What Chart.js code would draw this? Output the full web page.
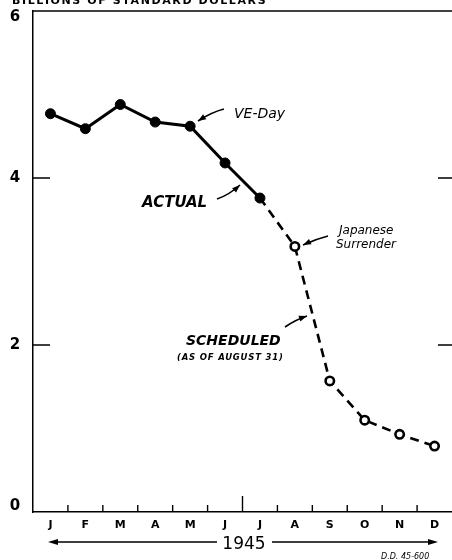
<!DOCTYPE html>
<html>
<head>
<meta charset="utf-8">
<script src="https://cdn.jsdelivr.net/npm/chart.js@4.4.1/dist/chart.umd.min.js"></script>
<style>
  html, body { margin: 0; padding: 0; background: #fff; }
  canvas { display: block; }
</style>
</head>
<body>
<canvas id="lendLease" width="452" height="560"></canvas>
<script>
// monthly values, billions of standard dollars, 1945
const months = ['J', 'F', 'M', 'A', 'M', 'J', 'J', 'A', 'S', 'O', 'N', 'D'];
const actual = [4.77, 4.59, 4.88, 4.67, 4.62, 4.18, 3.76, null, null, null, null, null];
const scheduled = [null, null, null, null, null, null, 3.76, 3.18, 1.57, 1.10, 0.93, 0.79];
const yTicks = [0, 2, 4, 6];

const LETTER = '"DejaVu Sans", "Liberation Sans", sans-serif';

function arrow(ctx, x1, y1, cx, cy, x2, y2) {
    ctx.beginPath();
    ctx.moveTo(x1, y1);
    ctx.quadraticCurveTo(cx, cy, x2, y2);
    ctx.lineWidth = 1.6;
    ctx.stroke();
    const a = Math.atan2(y2 - cy, x2 - cx);
    ctx.beginPath();
    ctx.moveTo(x2, y2);
    ctx.lineTo(x2 - 8 * Math.cos(a) + 3 * Math.sin(a), y2 - 8 * Math.sin(a) - 3 * Math.cos(a));
    ctx.lineTo(x2 - 8 * Math.cos(a) - 3 * Math.sin(a), y2 - 8 * Math.sin(a) + 3 * Math.cos(a));
    ctx.closePath();
    ctx.fill();
}

const decorations = {
    id: 'decorations',
    afterDraw(chart) {
        const ctx = chart.ctx;
        const area = chart.chartArea;
        const x = chart.scales.x;
        const y = chart.scales.y;
        ctx.save();
        ctx.strokeStyle = '#000';
        ctx.fillStyle = '#000';

        // top frame line
        ctx.lineWidth = 1.5;
        ctx.beginPath();
        ctx.moveTo(area.left, area.top);
        ctx.lineTo(area.right, area.top);
        ctx.stroke();

        // inner ticks on the month boundaries
        ctx.lineWidth = 1.4;
        for (let i = 1; i < months.length; i++) {
            const px = (x.getPixelForValue(i - 1) + x.getPixelForValue(i)) / 2;
            const len = i === 6 ? 16 : 7;
            ctx.beginPath();
            ctx.moveTo(px, area.bottom);
            ctx.lineTo(px, area.bottom - len);
            ctx.stroke();
        }
        // inner ticks and labels on the value axis
        ctx.font = 'bold 15px ' + LETTER;
        ctx.textAlign = 'center';
        ctx.textBaseline = 'middle';
        yTicks.forEach(v => {
            const py = y.getPixelForValue(v);
            ctx.fillText(String(v), 15, Math.min(Math.max(py, area.top + 6), area.bottom - 6));
            if (v === yTicks[0] || v === yTicks[yTicks.length - 1]) return;
            ctx.beginPath();
            ctx.moveTo(area.left, py);
            ctx.lineTo(area.left + 17, py);
            ctx.moveTo(area.right - 14, py);
            ctx.lineTo(area.right, py);
            ctx.stroke();
        });

        // unit title, cut by the top edge
        ctx.font = 'bold 11px ' + LETTER;
        ctx.letterSpacing = '1.6px';
        ctx.textAlign = 'left';
        ctx.textBaseline = 'alphabetic';
        ctx.fillText('BILLIONS OF STANDARD DOLLARS', 12, 4);
        ctx.letterSpacing = '0px';

        // notes
        ctx.font = 'italic 14px ' + LETTER;
        ctx.fillText('VE-Day', 234, 118);
        arrow(ctx, 224, 109, 212, 112, 198, 121);

        ctx.font = 'italic bold 15px ' + LETTER;
        ctx.fillText('ACTUAL', 142, 207);
        arrow(ctx, 217, 199, 229, 195, 240, 185);

        ctx.font = 'italic 12px ' + LETTER;
        ctx.fillText('Japanese', 339, 234);
        ctx.fillText('Surrender', 336, 248);
        arrow(ctx, 328, 236, 316, 239, 303, 245);

        ctx.font = 'italic bold 14px ' + LETTER;
        ctx.fillText('SCHEDULED', 186, 345);
        ctx.font = 'italic bold 8.5px ' + LETTER;
        ctx.letterSpacing = '0.8px';
        ctx.fillText('(AS OF AUGUST 31)', 177, 360);
        ctx.letterSpacing = '0px';
        arrow(ctx, 285, 327, 295, 320, 307, 316);

        // year with arrows under the month labels
        ctx.font = '17px ' + LETTER;
        ctx.textAlign = 'center';
        ctx.fillText('1945', 244, 549);
        ctx.lineWidth = 1.4;
        ctx.beginPath();
        ctx.moveTo(56, 542);
        ctx.lineTo(217, 542);
        ctx.moveTo(272, 542);
        ctx.lineTo(430, 542);
        ctx.stroke();
        [[48, 1], [438, -1]].forEach(([tx, d]) => {
            ctx.beginPath();
            ctx.moveTo(tx, 542);
            ctx.lineTo(tx + 10 * d, 539);
            ctx.lineTo(tx + 10 * d, 545);
            ctx.closePath();
            ctx.fill();
        });

        ctx.font = 'italic 8px ' + LETTER;
        ctx.textAlign = 'left';
        ctx.fillText('D.D. 45-600', 381, 559);
        ctx.restore();
    }
};

const ctx = document.getElementById('lendLease').getContext('2d');
const chart = new Chart(ctx, {
    type: 'line',
    data: {
        labels: months,
        datasets: [{
            label: 'Actual',
            data: actual,
            borderColor: '#000',
            backgroundColor: '#000',
            borderWidth: 3,
            pointRadius: 5,
            pointBackgroundColor: '#000',
            pointBorderColor: '#000',
            pointBorderWidth: 1,
            tension: 0,
            order: 1
        }, {
            label: 'Scheduled',
            data: scheduled,
            borderColor: '#000',
            borderWidth: 2.6,
            borderDash: [9, 6],
            pointRadius: c => c.dataIndex === 6 ? 0 : 4.2,
            pointBackgroundColor: '#fff',
            pointBorderColor: '#000',
            pointBorderWidth: 2.6,
            tension: 0,
            order: 2
        }]
    },
    options: {
        responsive: false,
        animation: false,
        devicePixelRatio: 1,
        layout: { autoPadding: false, padding: { top: 11, left: 0, right: 0, bottom: 0 } },
        plugins: {
            legend: { display: false },
            tooltip: { enabled: false }
        },
        scales: {
            x: {
                offset: true,
                grid: { display: false, drawTicks: false },
                border: { display: true, color: '#000', width: 1.5 },
                ticks: {
                    color: '#000',
                    padding: 7,
                    font: { family: LETTER, size: 11, weight: 'bold' }
                },
                afterFit(s) {
                    s.height = 48;
                    s.paddingLeft = 0;
                    s.paddingRight = 0;
                }
            },
            y: {
                min: 0,
                max: 6,
                afterBuildTicks(s) { s.ticks = yTicks.map(v => ({ value: v })); },
                grid: { display: false, drawTicks: false },
                border: { display: true, color: '#000', width: 1.5 },
                ticks: { display: false },
                afterFit(s) {
                    s.width = 33;
                    s.paddingTop = 0;
                    s.paddingBottom = 0;
                }
            }
        }
    },
    plugins: [decorations]
});
</script>
</body>
</html>
